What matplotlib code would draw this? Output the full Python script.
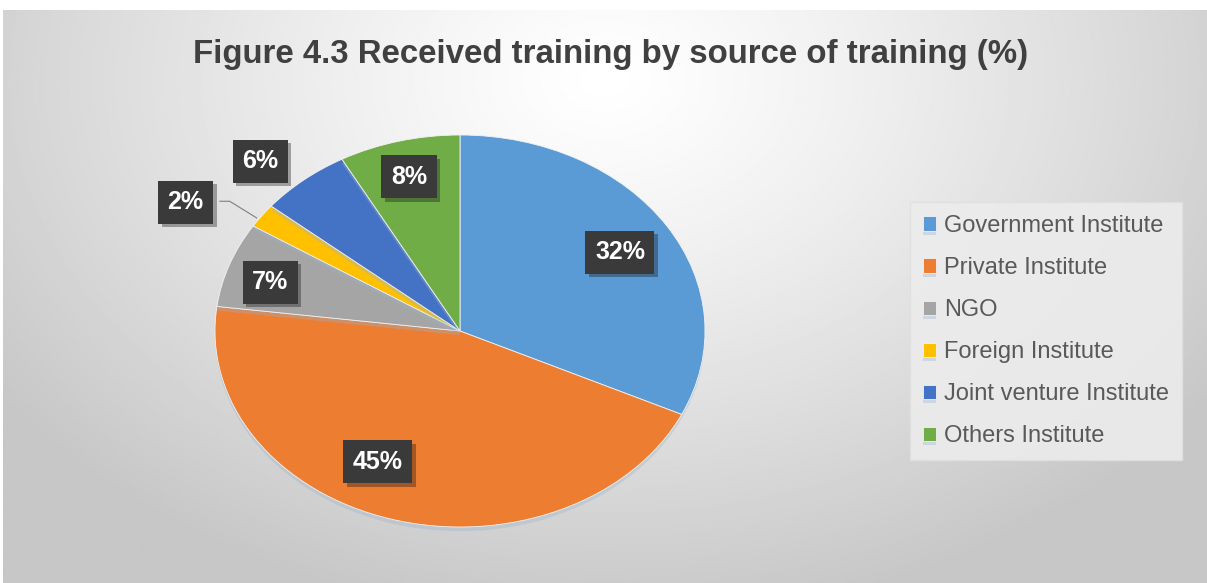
import matplotlib.pyplot as plt
import matplotlib.patheffects as pe
import numpy as np

# Data
sources = ['Government Institute', 'Private Institute', 'NGO',
           'Foreign Institute', 'Joint venture Institute', 'Others Institute']
shares = [32, 45, 7, 2, 6, 8]
colors = ['#5B9BD5', '#ED7D31', '#A5A5A5', '#FFC000', '#4472C4', '#70AD47']

# label placement (x, y in pie units), layout only
label_xy = [(0.653, 0.403), (-0.335, -0.668), (-0.775, 0.250),
            (-1.12, 0.658), (-0.816, 0.867), (-0.208, 0.786)]

W, H = 1207, 583
fig = plt.figure(figsize=(W / 100, H / 100), dpi=100)
fig.patch.set_facecolor('white')
plt.rcParams['font.family'] = ['Liberation Sans', 'DejaVu Sans']

# Background gradient panel
bg = fig.add_axes([3 / W, 0, 1 - 3 / W, 1 - 10 / H])
bg.set_axis_off()
yy, xx = np.mgrid[0:1:300j, 0:1:600j]
d = np.sqrt(((xx - 0.5) / 0.62) ** 2 + ((yy - 0.12) / 0.95) ** 2)
val = 1 - 0.22 * np.clip(d, 0, 1) ** 1.2
bg.imshow(val, cmap='gray', vmin=0, vmax=1, aspect='auto',
          extent=[0, 1, 1, 0], interpolation='bilinear')
bg.set_xlim(0, 1)
bg.set_ylim(1, 0)

# Title
fig.text(611 / W, 1 - 54 / H, 'Figure 4.3 Received training by source of training (%)',
         ha='center', va='center', fontsize=23.8, fontweight='bold', color='#404040')

# Pie (stretched into an ellipse)
cx, cy, rx, ry = 460, 331, 245, 196
ax = fig.add_axes([(cx - rx) / W, 1 - (cy + ry) / H, 2 * rx / W, 2 * ry / H])
wedges, _ = ax.pie(shares, colors=colors, startangle=90, counterclock=False,
                   wedgeprops=dict(linewidth=0.6, edgecolor='#f2f2f2'))
for w in wedges:
    w.set_path_effects([pe.SimplePatchShadow(offset=(0, -3), shadow_rgbFace='#9ab4cc', alpha=0.35),
                        pe.Normal()])
ax.set_aspect('auto')
ax.set_xlim(-1, 1)
ax.set_ylim(-1, 1)
ax.set_axis_off()

for share, (lx, ly) in zip(shares, label_xy):
    t = ax.text(lx, ly, f'{share}%', ha='center', va='center', fontsize=18,
                fontweight='bold', color='white', zorder=5,
                bbox=dict(boxstyle='square,pad=0.38', fc='#3a3a3a', ec='none'))
    t.get_bbox_patch().set_path_effects([
        pe.SimplePatchShadow(offset=(2.5, -2.5), alpha=0.35), pe.Normal()])

# leader line for the small Foreign slice
ax.plot([-0.98, -0.94, -0.83], [0.662, 0.662, 0.577], color='#7f7f7f', lw=0.8, zorder=4)

# Legend
leg = fig.legend(wedges, sources, loc='center left',
                 bbox_to_anchor=(910 / W, 1 - 331 / H), frameon=True, fancybox=False,
                 fontsize=17, handlelength=0.55, handleheight=0.55, handletextpad=0.35,
                 labelspacing=0.85, borderpad=0.55, borderaxespad=0,
                 labelcolor='#595959')
leg.get_frame().set_facecolor('#ececec')
leg.get_frame().set_edgecolor('#e0e0e0')
leg.get_frame().set_alpha(0.9)

fig.savefig('out.png', dpi=100)
